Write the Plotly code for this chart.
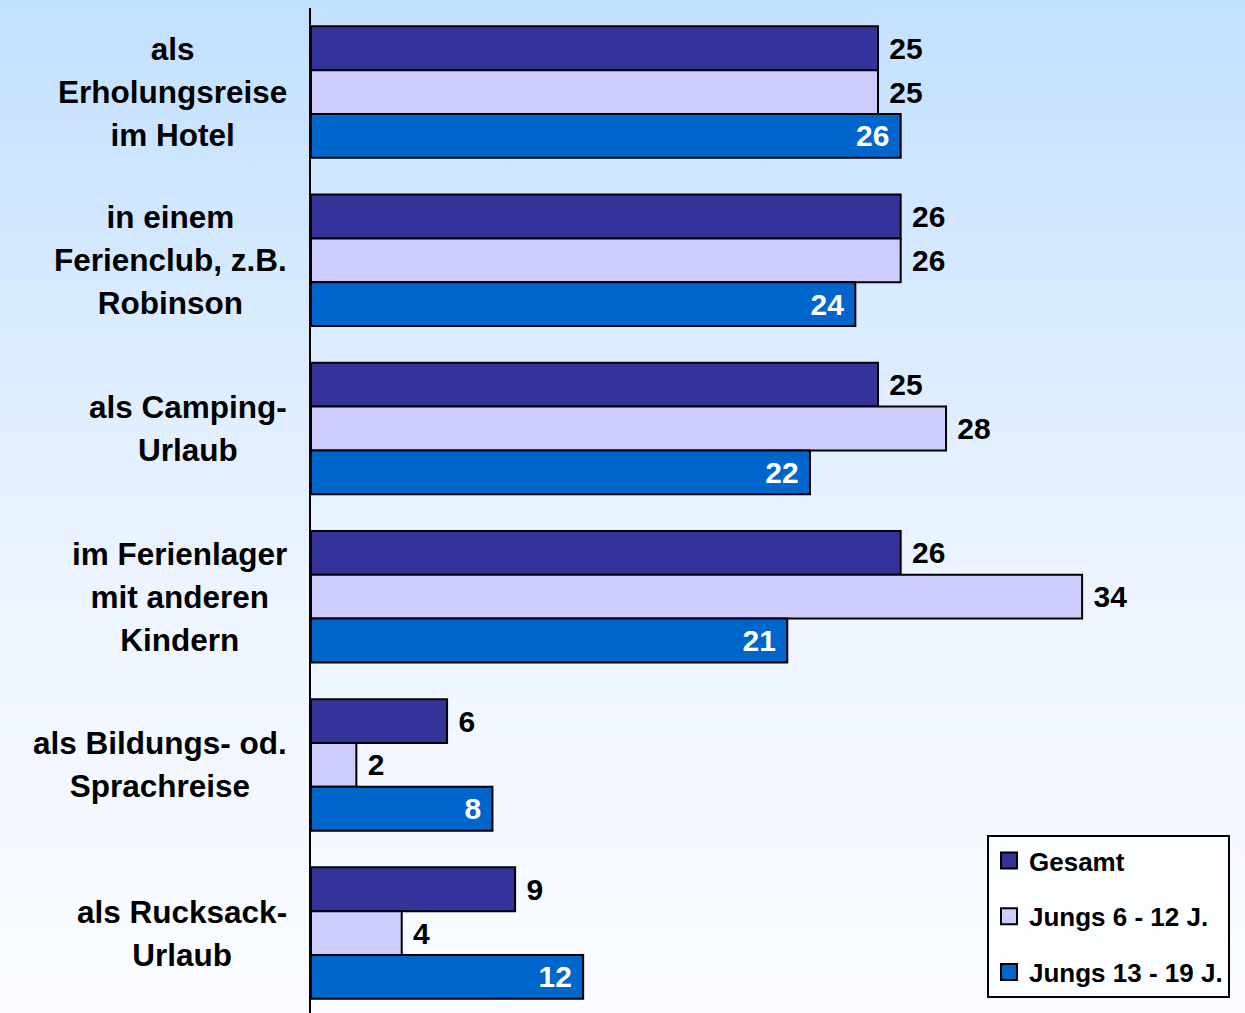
import base64
import plotly.graph_objects as go

categories = [
    "als<br>Erholungsreise<br>im Hotel",
    "in einem<br>Ferienclub, z.B.<br>Robinson",
    "als Camping-<br>Urlaub",
    "im Ferienlager<br>mit anderen<br>Kindern",
    "als Bildungs- od.<br>Sprachreise",
    "als Rucksack-<br>Urlaub",
]
series_names = ["Gesamt", "Jungs 6 - 12 J.", "Jungs 13 - 19 J."]
gesamt = [25, 26, 25, 26, 6, 9]
jungs_6_12 = [25, 26, 28, 34, 2, 4]
jungs_13_19 = [26, 24, 22, 21, 8, 12]

colors = ["#333399", "#CCCCFF", "#0066CC"]
FONT = "Liberation Sans, Arial, sans-serif"

W, H = 1245, 1013
ML, MT, MR, MB = 311, 8, 0, 0
plot_w = W - ML - MR
plot_h = H - MT - MB
px_per_unit = 22.68
band_px = 168.2

fig = go.Figure()

values = [gesamt, jungs_6_12, jungs_13_19]
for i, (name, vals, col) in enumerate(zip(series_names, values, colors)):
    inside = i == 2
    fig.add_trace(go.Bar(
        y=categories,
        x=vals,
        orientation="h",
        name=name,
        marker=dict(color=col, line=dict(color="black", width=2)),
        texttemplate="%{x}\u00a0" if inside else "\u00a0%{x}",
        textposition="inside" if inside else "outside",
        insidetextanchor="end",
        textangle=0,
        constraintext="none",
        cliponaxis=False,
        textfont=dict(family=FONT, size=30, color="white" if inside else "black", weight="bold"),
        showlegend=False,
        hoverinfo="skip",
    ))
    # legend-only marker
    fig.add_trace(go.Scatter(
        x=[None], y=[None], mode="markers", name=name,
        legendgroup=name,
        marker=dict(symbol="square", size=20, color=col, line=dict(color="black", width=2)),
    ))

# category labels, left of the axis
for cat in categories:
    lines = cat.split("<br>")
    txt = "<br>".join("<span style='font-size:31.5px'>%s</span>" % l for l in lines)
    fig.add_annotation(
        x=0, xref="paper", y=cat, yref="y",
        text=txt, showarrow=False,
        xanchor="right", yanchor="middle", align="center",
        xshift=-22,
        font=dict(family=FONT, size=33, color="black", weight="bold"),
    )

# gradient background
svg = ("<svg xmlns='http://www.w3.org/2000/svg' width='10' height='100'>"
       "<defs><linearGradient id='g' x1='0' y1='0' x2='0' y2='1'>"
       "<stop offset='0' stop-color='#C2E0FF'/>"
       "<stop offset='0.6' stop-color='#EEF5FF'/>"
       "<stop offset='1' stop-color='#FAFCFF'/>"
       "</linearGradient></defs><rect width='10' height='100' fill='url(#g)'/></svg>")
src = "data:image/svg+xml;base64," + base64.b64encode(svg.encode()).decode()
fig.add_layout_image(
    source=src, xref="paper", yref="paper",
    x=-ML / plot_w, y=1 + MT / plot_h,
    sizex=W / plot_w, sizey=H / plot_h,
    xanchor="left", yanchor="top", sizing="stretch", layer="below",
)

fig.update_layout(
    width=W, height=H,
    margin=dict(l=ML, r=MR, t=MT, b=MB),
    barmode="group",
    bargap=0.218,
    bargroupgap=0,
    paper_bgcolor="white",
    plot_bgcolor="rgba(0,0,0,0)",
    font=dict(family=FONT, color="black"),
    legend=dict(
        x=(987 - ML) / plot_w, y=1 - (835 - MT) / plot_h,
        xanchor="left", yanchor="top",
        bgcolor="#FBFDFF", bordercolor="black", borderwidth=2,
        font=dict(family=FONT, size=26, color="black", weight="bold"),
        tracegroupgap=19,
        itemwidth=30,
    ),
)
fig.update_xaxes(range=[0, plot_w / px_per_unit], visible=False, showgrid=False)
fig.update_yaxes(
    range=[-0.5 + plot_h / band_px, -0.5],
    showticklabels=False, showgrid=False,
    showline=True, linecolor="black", linewidth=2, ticks="",
)

fig.write_html("out.html", config={"displayModeBar": False},
               post_script="document.body.style.margin='0';")
